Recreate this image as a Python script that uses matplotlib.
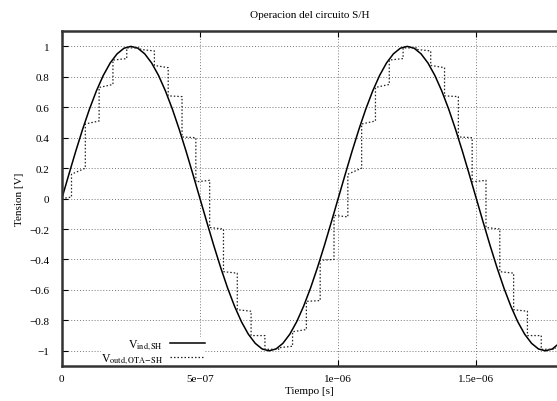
import matplotlib.pyplot as plt
import numpy as np

plt.rcParams['font.family'] = ['Liberation Serif', 'DejaVu Serif']
plt.rcParams['mathtext.fontset'] = 'stix'
plt.rcParams['font.size'] = 8

# input signal V_ind,SH, read every 0.025 us
vin = [0, 0.156, 0.309, 0.454, 0.588, 0.707, 0.809, 0.891, 0.951, 0.988,
       1.0, 0.988, 0.951, 0.891, 0.809, 0.707, 0.588, 0.454, 0.309, 0.156,
       0, -0.156, -0.309, -0.454, -0.588, -0.707, -0.809, -0.891, -0.951, -0.988,
       -1.0, -0.988, -0.951, -0.891, -0.809, -0.707, -0.588, -0.454, -0.309, -0.156,
       0, 0.156, 0.309, 0.454, 0.588, 0.707, 0.809, 0.891, 0.951, 0.988,
       1.0, 0.988, 0.951, 0.891, 0.809, 0.707, 0.588, 0.454, 0.309, 0.156,
       0, -0.156, -0.309, -0.454, -0.588, -0.707, -0.809, -0.891, -0.951, -0.988,
       -1.0, -0.988, -0.951]
t_in = np.linspace(0, 1.8e-6, len(vin))

# output of the S/H: instants of each jump (us) and held level after it
t_hold = [0, 0.035, 0.085, 0.135, 0.185, 0.235, 0.285, 0.335, 0.385, 0.435, 0.485,
          0.535, 0.585, 0.635, 0.685, 0.735, 0.785, 0.835, 0.885, 0.935, 0.985,
          1.035, 1.085, 1.135, 1.185, 1.235, 1.285, 1.335, 1.385, 1.435, 1.485,
          1.535, 1.585, 1.635, 1.685, 1.735, 1.785]
v_start = [0, 0.16, 0.49, 0.73, 0.91, 0.99, 0.98, 0.875, 0.675, 0.405, 0.11,
           -0.19, -0.48, -0.73, -0.90, -0.99, -0.98, -0.875, -0.675, -0.405, -0.11,
           0.16, 0.49, 0.73, 0.91, 0.99, 0.98, 0.875, 0.675, 0.405, 0.11,
           -0.19, -0.48, -0.73, -0.90, -0.99, -0.98]
v_end = [0.01, 0.20, 0.51, 0.75, 0.92, 0.99, 0.97, 0.86, 0.67, 0.40, 0.12,
         -0.20, -0.49, -0.74, -0.90, -0.99, -0.97, -0.86, -0.67, -0.40, -0.12,
         0.20, 0.51, 0.75, 0.92, 0.99, 0.97, 0.86, 0.67, 0.40, 0.12,
         -0.20, -0.49, -0.74, -0.90, -0.99, -0.97]

xt = []
yt = []
for i in range(len(t_hold)):
    t1 = t_hold[i + 1] if i + 1 < len(t_hold) else 1.8
    xt += [t_hold[i] * 1e-6, t1 * 1e-6]
    yt += [v_start[i], v_end[i]]

xticks = [0, 5e-7, 1e-6, 1.5e-6]
xlabels = ['0', '5e\u221207', '1e\u221206', '1.5e\u221206']
yticks = [-1, -0.8, -0.6, -0.4, -0.2, 0, 0.2, 0.4, 0.6, 0.8, 1]

fig = plt.figure(figsize=(5.57, 4.02), dpi=100)
ax = fig.add_axes([0.111, 0.087, 0.889, 0.833])

ax.plot(t_in, vin, color='black', lw=1.1, label=r'V$_{\rm ind,SH}$')
ax.plot(xt, yt, color='#222222', lw=0.9, linestyle=(0, (1.2, 1.6)),
        label=r'V$_{\rm outd,OTA\!-\!SH}$')

ax.set_xlim(0, 1.792e-6)
ax.set_ylim(-1.1, 1.1)
ax.set_xticks(xticks)
ax.set_xticklabels(xlabels)
ax.set_yticks(yticks)
ax.set_yticklabels(['%g' % v if v >= 0 else '\u2212%g' % -v for v in yticks])
ax.tick_params(direction='in', length=4, width=0.8, top=True, right=False)
ax.tick_params(axis='y', pad=9)
ax.tick_params(axis='x', pad=6)
ax.grid(True, color='#777777', linestyle=(0, (1, 2)), linewidth=0.7)

for s in ['left', 'top', 'bottom']:
    ax.spines[s].set_linewidth(1.8)
    ax.spines[s].set_color('#333333')
ax.spines['right'].set_visible(False)

ax.set_title('Operacion del circuito S/H', fontsize=8, pad=10)
ax.set_xlabel('Tiempo [s]', labelpad=2)
ax.set_ylabel('Tension [V]', labelpad=4)

leg = ax.legend(loc='lower left', bbox_to_anchor=(0.068, -0.018), markerfirst=False,
                frameon=True, facecolor='white', edgecolor='none', framealpha=1,
                fancybox=False, handlelength=2.9, labelspacing=0.0,
                handletextpad=0.6, borderpad=0.0, fontsize=8.5)
leg.set_zorder(2.2)

fig.savefig('out.png', dpi=100)
